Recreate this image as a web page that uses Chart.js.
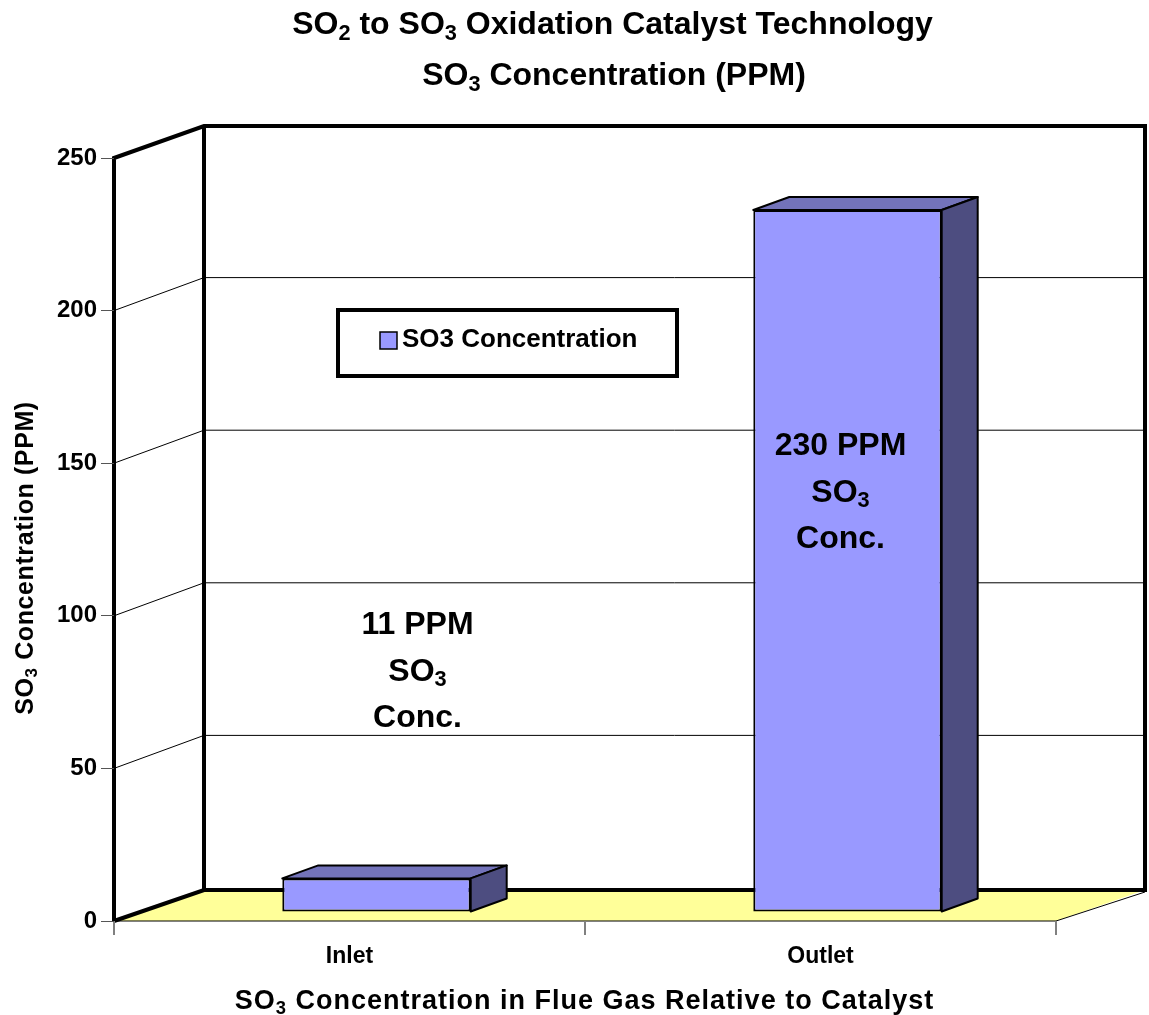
<!DOCTYPE html>
<html>
<head>
<meta charset="utf-8">
<style>
  html, body { margin: 0; padding: 0; background: #fff; }
  canvas { display: block; }
</style>
<script src="https://cdn.jsdelivr.net/npm/chart.js@4"></script>
</head>
<body>
<canvas id="so3Chart" width="1149" height="1015"></canvas>
<script>
const categories = ["Inlet", "Outlet"];
const so3_values = [11, 230];
const series_label = "SO3 Concentration";
const chart_title = ["SO₂ to SO₃ Oxidation Catalyst Technology", "SO₃ Concentration (PPM)"];
const x_title = "SO₃ Concentration in Flue Gas Relative to Catalyst";
const y_title = "SO₃ Concentration (PPM)";
const bar_notes = [
  ["11 PPM", "SO₃", "Conc."],
  ["230 PPM", "SO₃", "Conc."],
];

const FONT = "'Liberation Sans', Arial, sans-serif";
const WALL_DX = 90, WALL_DY = 32;   // depth of the 3d box
const BAR_DX = 27, BAR_DY = 9;      // bars sit a little behind the front plane
const SIDE_DX = 36, SIDE_DY = 13;   // depth of a bar
const SUBS = { "₂": "2", "₃": "3" };

function line(ctx, pts, width) {
  ctx.beginPath();
  ctx.moveTo(pts[0][0], pts[0][1]);
  pts.slice(1).forEach(p => ctx.lineTo(p[0], p[1]));
  ctx.lineWidth = width;
  ctx.strokeStyle = "#000";
  ctx.stroke();
}

function face(ctx, pts, color) {
  ctx.beginPath();
  ctx.moveTo(pts[0][0], pts[0][1]);
  pts.slice(1).forEach(p => ctx.lineTo(p[0], p[1]));
  ctx.closePath();
  ctx.fillStyle = color;
  ctx.fill();
  ctx.lineJoin = "round";
  ctx.lineWidth = 2;
  ctx.strokeStyle = "#000";
  ctx.stroke();
}

// centred text with real lowered subscripts, the unicode ones look too small
function richText(ctx, str, x, y, size, spacing) {
  const runs = str.split(/([₂₃])/).filter(s => s !== "");
  const fontOf = s => "bold " + (SUBS[s] ? size * 0.68 : size) + "px " + FONT;
  ctx.save();
  ctx.fillStyle = "#000";
  ctx.textAlign = "left";
  ctx.textBaseline = "alphabetic";
  ctx.letterSpacing = spacing + "px";
  let total = 0;
  runs.forEach(s => {
    ctx.font = fontOf(s);
    total += ctx.measureText(SUBS[s] || s).width;
  });
  let cx = x - total / 2;
  const base = y + size * 0.35;
  runs.forEach(s => {
    ctx.font = fontOf(s);
    const txt = SUBS[s] || s;
    ctx.fillText(txt, cx, SUBS[s] ? base + size * 0.17 : base);
    cx += ctx.measureText(txt).width;
  });
  ctx.restore();
}

const box3d = {
  id: "box3d",
  afterLayout(chart) {
    // title is centred over the box, not the page
    const ctx = chart.ctx;
    chart.titleBlock.draw = function () {
      richText(ctx, chart_title[0], 612.5, 23, 32, 0);
      richText(ctx, chart_title[1], 614, 74, 32, 0);
    };
    chart.scales.x.drawTitle = function () {
      richText(ctx, x_title, 584.5, 1000, 27, 1);
    };
    // y axis title sits lower than the middle of the axis
    chart.scales.y.drawTitle = function () {
      ctx.save();
      ctx.translate(24, 558);
      ctx.rotate(-Math.PI / 2);
      richText(ctx, y_title, 0, 0, 25, 0.6);
      ctx.restore();
    };
    chart.legend.left = 380;
    chart.legend.right = 380 + chart.legend.width;
    chart.legend.top = 327;
    chart.legend.bottom = 327 + chart.legend.height;
  },
  beforeDraw(chart) {
    const ctx = chart.ctx, a = chart.chartArea, y = chart.scales.y;
    const l = a.left, r = a.right + WALL_DX - 1, t = a.top, b = a.bottom;
    const bt = t - WALL_DY, bb = b - WALL_DY + 1;

    ctx.save();
    ctx.beginPath();
    ctx.moveTo(l, b);
    ctx.lineTo(l + WALL_DX, bb);
    ctx.lineTo(r, bb);
    ctx.lineTo(a.right, b);
    ctx.closePath();
    ctx.fillStyle = "#FFFF99";
    ctx.fill();

    y.ticks.forEach(tick => {
      if (tick.value === 0 || tick.value === 250) return;
      const py = y.getPixelForValue(tick.value);
      line(ctx, [[l, py], [l + WALL_DX, py - WALL_DY - 1], [r, py - WALL_DY - 1]], 1);
    });

    line(ctx, [[l, b], [a.right, b], [r, bb + 2]], 1);
    ctx.lineJoin = "miter";
    line(ctx, [[l, b], [l, t], [l + WALL_DX, bt], [r, bt], [r, bb], [l + WALL_DX, bb], [l, b]], 4);
    line(ctx, [[l + WALL_DX, bt], [l + WALL_DX, bb]], 4);

    // legend frame
    ctx.fillStyle = "#fff";
    ctx.fillRect(338, 310, 339, 66);
    ctx.lineWidth = 4;
    ctx.strokeRect(338, 310, 339, 66);
    ctx.restore();
  },
  beforeDatasetDraw(chart, args) {
    const ctx = chart.ctx;
    ctx.save();
    ctx.translate(BAR_DX, -BAR_DY);
    args.meta.data.forEach(bar => {
      const x0 = bar.x - bar.width / 2, x1 = bar.x + bar.width / 2;
      face(ctx, [[x0, bar.y], [x0 + SIDE_DX, bar.y - SIDE_DY], [x1 + SIDE_DX, bar.y - SIDE_DY], [x1, bar.y]], "#7373BA");
      face(ctx, [[x1, bar.y], [x1 + SIDE_DX, bar.y - SIDE_DY], [x1 + SIDE_DX, bar.base - SIDE_DY], [x1, bar.base]], "#4D4D80");
    });
  },
  afterDatasetDraw(chart) {
    chart.ctx.restore();
  },
  afterDraw(chart) {
    const ctx = chart.ctx, xs = chart.scales.x, ys = chart.scales.y;
    ctx.save();

    // legend swatch, a wider one than the legend's own box
    ctx.fillStyle = "#9999FF";
    ctx.strokeStyle = "#000";
    ctx.lineWidth = 1.5;
    ctx.fillRect(380, 332, 17, 17);
    ctx.strokeRect(380, 332, 17, 17);

    // notes on the bars
    const note_x = [68, 20], note_v = [97.7, 156.2];
    bar_notes.forEach((note, i) => {
      const px = xs.getPixelForValue(i) + note_x[i];
      const py = ys.getPixelForValue(note_v[i]);
      note.forEach((txt, j) => richText(ctx, txt, px, py + j * 46.5, 32, 0));
    });
    ctx.restore();
  },
};

const ctx = document.getElementById("so3Chart");

const so3Chart = new Chart(ctx, {
  type: "bar",
  plugins: [box3d],
  data: {
    labels: categories,
    datasets: [
      {
        label: series_label,
        data: so3_values,
        backgroundColor: "#9999FF",
        borderColor: "#000",
        borderWidth: 2,
        borderSkipped: false,
        barPercentage: 0.4,
        categoryPercentage: 1,
      },
    ],
  },
  options: {
    responsive: false,
    animation: false,
    layout: { padding: { top: 0, right: 93, bottom: 0, left: 0 } },
    plugins: {
      tooltip: { enabled: false },
      title: {
        display: true,
        text: chart_title,
        color: "#000",
        font: { family: FONT, size: 32, weight: "bold", lineHeight: "51px" },
        padding: { top: 0, bottom: 56 },
      },
      legend: {
        position: "chartArea",
        align: "start",
        labels: {
          color: "#000",
          boxWidth: 9,
          boxHeight: 14,
          padding: 0,
          font: { family: FONT, size: 26, weight: "bold" },
        },
      },
    },
    scales: {
      x: {
        afterFit(scale) { scale.height = 94; },
        grid: { drawOnChartArea: false, color: "#808080", lineWidth: 2, tickLength: 14 },
        border: { display: false },
        ticks: { color: "#000", font: { family: FONT, size: 23, weight: "bold" }, padding: 8 },
        title: {
          display: true,
          text: x_title,
          color: "#000",
          font: { family: FONT, size: 27, weight: "bold" },
        },
      },
      y: {
        min: 0,
        max: 250,
        afterFit(scale) { scale.width = 114; },
        grid: { drawOnChartArea: false, color: "#555", tickLength: 13 },
        border: { display: false },
        ticks: { stepSize: 50, color: "#000", font: { family: FONT, size: 24, weight: "bold" }, padding: 4 },
        title: {
          display: true,
          text: y_title,
          color: "#000",
          font: { family: FONT, size: 25, weight: "bold" },
        },
      },
    },
  },
});
</script>
</body>
</html>
